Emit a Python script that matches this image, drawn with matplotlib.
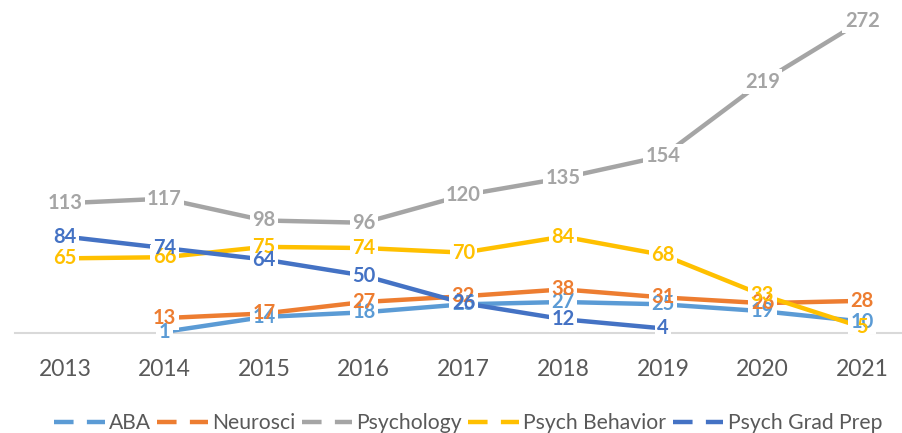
import matplotlib.pyplot as plt
from matplotlib.lines import Line2D

plt.rcParams['font.family'] = ['Lato', 'DejaVu Sans']

years = [2013, 2014, 2015, 2016, 2017, 2018, 2019, 2020, 2021]
series_names = ['ABA', 'Neurosci', 'Psychology', 'Psych Behavior', 'Psych Grad Prep']

aba = [None, 1, 14, 18, 25, 27, 25, 19, 10]
neurosci = [None, 13, 17, 27, 32, 38, 31, 26, 28]
psychology = [113, 117, 98, 96, 120, 135, 154, 219, 272]
psych_behavior = [65, 66, 75, 74, 70, 84, 68, 33, 5]
psych_grad_prep = [84, 74, 64, 50, 26, 12, 4, None, None]

colors = ['#5B9BD5', '#ED7D31', '#A5A5A5', '#FFC000', '#4472C4']
all_series = [aba, neurosci, psychology, psych_behavior, psych_grad_prep]

fig = plt.figure(figsize=(9.02, 4.33), dpi=100)
ax = fig.add_axes([15 / 902, 1 - 333 / 433, 897 / 902, 333 / 433])

for i, (vals, col) in enumerate(zip(all_series, colors)):
    xs = [y for y, v in zip(years, vals) if v is not None]
    ys = [v for v in vals if v is not None]
    ax.plot(xs, ys, color=col, lw=3.2, solid_capstyle='butt', zorder=2 + i * 0.1)

# white knock-outs under the labels, then the coloured text above them all
for i, (vals, col) in enumerate(zip(all_series, colors)):
    for y, v in zip(years, vals):
        if v is None:
            continue
        ax.text(y, v, str(v), color='white', fontsize=14.5, fontweight='bold',
                ha='center', va='center', zorder=4,
                bbox=dict(boxstyle='square,pad=0.12', fc='white', ec='none'))
        ax.text(y, v, str(v), color=col, fontsize=14.5, fontweight='bold',
                ha='center', va='center', zorder=5 + i)

ax.set_xlim(2012.5, 2021.5)
ax.set_ylim(0, 290)
ax.set_xticks(years)
ax.set_xticklabels([str(y) for y in years])
ax.set_yticks([])
ax.tick_params(axis='x', length=0, labelsize=16.5, labelcolor='#595959', pad=19)
for s in ['top', 'right', 'left']:
    ax.spines[s].set_visible(False)
ax.spines['bottom'].set_color('#D9D9D9')
ax.spines['bottom'].set_linewidth(1.5)
ax.spines['bottom'].set_zorder(1)

handles = [Line2D([0], [0], color=c, lw=3.2, linestyle=(0, (4.4, 3))) for c in colors]
fig.legend(handles, series_names, loc='center', bbox_to_anchor=(468 / 902, 1 - 423 / 433),
           ncol=5, frameon=False, fontsize=15.2, handlelength=2.4, handletextpad=0.2,
           columnspacing=0.3, labelcolor='#595959', borderpad=0, borderaxespad=0)

fig.savefig('out.png', dpi=100)
